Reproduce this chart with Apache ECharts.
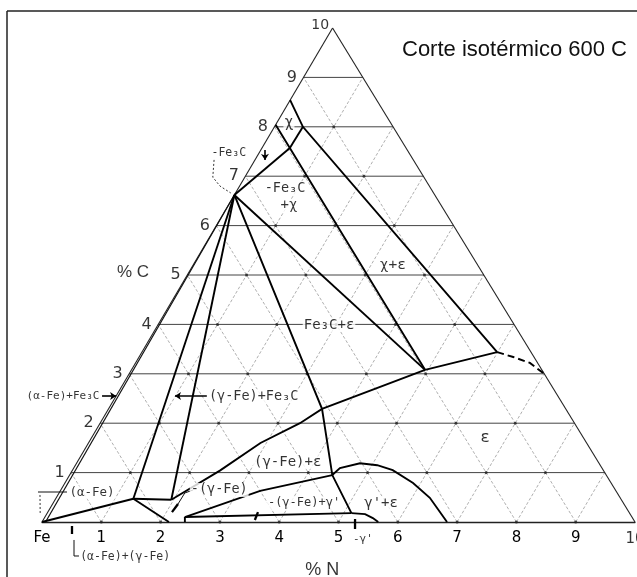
<!DOCTYPE html>
<html><head><meta charset="utf-8">
<script src="https://cdn.jsdelivr.net/npm/echarts@6/dist/echarts.min.js"></script>
<style>html,body{margin:0;padding:0;background:#fff}#c{width:637px;height:577px}</style>
</head><body><div id="c"></div>
<script>
// ---- data: ternary points as [N %, C %] ----
const bottomTicks = ['Fe','1','2','3','4','5','6','7','8','9','10'];
const leftTicks = [1,2,3,4,5,6,7,8,9,10];
const gridLevels = [1,2,3,4,5,6,7,8,9];

const feAlpha      = [[0,0],[1.31,0.47]];
const alphaFe3C    = [[1.31,0.47],[0,6.62]];
const alphaGamma   = [[1.31,0.47],[1.96,0.45]];
const alphaBottom  = [[1.31,0.47],[2.14,0]];
const gammaFe3C    = [[1.96,0.45],[0,6.62]];
const gammaEps     = [[1.96,0.45],[2.49,1.04],[2.9,1.6],[3.37,2.0],[3.60,2.29],[4.95,3.08]];
const fe3cEps      = [[0,6.62],[4.95,3.08]];
const fe3cDown     = [[0,6.62],[3.60,2.29],[4.43,0.95],[5.13,0.18]];
const fe3cChi      = [[0,6.62],[0.47,7.57]];
const chiLowEps    = [[0,8.04],[0.47,7.57],[4.95,3.08]];
const chiHighEps   = [[0,8.54],[0.48,8.0],[5.99,3.44]];
const chiRight     = [[0.48,8.0],[0.47,7.57]];
const epsSolid     = [[4.95,3.08],[5.99,3.44]];
const epsDashed    = [[5.99,3.44],[6.31,3.34],[6.65,3.22],[7.0,3.0]];
const gammaLower   = [[2.36,0.1],[3.37,0.63],[4.43,0.95]];
const gammaStub    = [[2.36,0.1],[2.41,0]];
const gPrimeTop    = [[2.36,0.1],[5.13,0.18]];
const gPrimeArc    = [[5.13,0.18],[5.37,0.16],[5.54,0.08],[5.67,0]];
const epsDome      = [[4.43,0.95],[4.49,1.09],[4.78,1.19],[5.09,1.15],[5.40,1.05],[5.87,0.79],[6.30,0.49],[6.83,0]];
const fe3cDouble   = [[0.06,0],[0,6.62]];

// annotation leaders (ternary coords)
const leaderAlpha    = [[-0.365,0.607],[0.124,0.607]];
const leaderAlphaDot = [[-0.302,0.547],[-0.10,0.142]];
const leaderAG       = [[0.718,-0.364],[0.877,-0.688],[0.961,-0.688]];
const leaderGamma    = [[2.23,0.648],[2.12,0.587],[2.115,0.364]];
const leaderFe3C     = [[-0.69,7.33],[-0.54,6.98],[-0.33,6.80],[-0.08,6.66]];
const tickF          = [[3.57,0.04],[3.544,0.2]];
const arrowGammaP    = [[5.347,-0.14],[5.25,0.06]];
const arrowAG        = [[0.625,-0.243],[0.545,-0.08]];
const arrowGammaReg  = [[2.115,0.364],[2.094,0.2]];
const arrowChi       = [[0.07,7.53],[0.17,7.33]];
const arrowAlphaFe3C = [[-0.237,2.55],[0,2.55]];
const arrowGammaFe3C = [[1.53,2.55],[0.993,2.55]];

const labelTexts = {
  chi:'χ', fe3cTop:'-Fe₃C', fe3cChi1:'-Fe₃C', fe3cChi2:'+χ', chiEps:'χ+ε', fe3cEpsL:'Fe₃C+ε',
  eps:'ε', gFe3C:'(γ-Fe)+Fe₃C', aFe3C:'(α-Fe)+Fe₃C', gEps:'(γ-Fe)+ε', gamma:'-(γ-Fe)',
  alpha:'(α-Fe)', gGp:'-(γ-Fe)+γ\'', gpEps:'γ\'+ε', gp:'-γ\'', aG:'(α-Fe)+(γ-Fe)',
  pctC:'% C', pctN:'% N'
};

// ---- layout ----
const K = 0.49; // horizontal shift of the apex (fraction of base)
const toXY = p => [p[0] + K * p[1], p[1]];
const MONO = 'DejaVu Sans Mono';

const labelAnchors = [
  ['chi',[0.205,8.08],15],['fe3cTop',[-0.51,7.47],11.5],['fe3cChi1',[0.785,6.76],13.5],['fe3cChi2',[1.03,6.40],14],
  ['chiEps',[3.37,5.20],14.5],['fe3cEpsL',[2.885,3.99],14],['eps',[6.64,1.70],16],['gFe3C',[2.32,2.55],13.5],
  ['aFe3C',[-0.895,2.55],11],['gEps',[3.55,1.21],14],['gamma',[2.67,0.65],13.5],['alpha',[0.555,0.59],12.5],
  ['gGp',[4.23,0.385],12],['gpEps',[5.53,0.385],14],['gp',[5.58,-0.344],11],['aG',[1.75,-0.71],11.5],
  ['pctC',[-0.945,5.06],17,'Liberation Sans'],['pctN',[5.2,-0.97],18,'Liberation Sans']
];

const grid1 = [], grid2 = [], grid3 = [], dots = [];
gridLevels.forEach(v => {
  grid1.push({coords: [toXY([0, v]), toXY([10 - v, v])]});
  grid2.push({coords: [toXY([v, 0]), toXY([v, 10 - v])]});
  grid3.push({coords: [toXY([v, 0]), toXY([0, v])]});
});
for (let i = 1; i < 10; i++) for (let j = 1; i + j < 10; j++) dots.push(toXY([i, j]));
for (let i = 1; i < 10; i++) { dots.push(toXY([i, 0])); }

const phase = [feAlpha, alphaFe3C, alphaGamma, alphaBottom, gammaFe3C, gammaEps, fe3cEps, fe3cDown,
  fe3cChi, chiLowEps, chiHighEps, chiRight, epsSolid, gammaLower, gammaStub, gPrimeTop, gPrimeArc, epsDome]
  .map(a => ({coords: a.map(toXY)}));

const edges = [[[0,0],[0,10]], [[10,0],[0,10]]].map(a => ({coords: a.map(toXY)}));
const thinLeaders = [leaderAlpha, leaderAG, leaderGamma].map(a => ({coords: a.map(toXY)}));
const dotLeaders = [leaderFe3C, leaderAlphaDot].map(a => ({coords: a.map(toXY)}));
const thickTicks = [tickF, arrowGammaP, arrowAG, arrowGammaReg].map(a => ({coords: a.map(toXY)}));
const arrows = [arrowChi, arrowAlphaFe3C, arrowGammaFe3C].map(a => ({coords: a.map(toXY)}));

const labelData = labelAnchors.map(([key, p, fs, ff]) => ({
  value: toXY(p),
  label: {show: true, position: 'inside', formatter: labelTexts[key], fontSize: fs,
    fontFamily: ff || MONO, color: '#000',
    backgroundColor: key === 'pctC' || key === 'pctN' ? 'transparent' : '#fff', padding: [0, 1]}
}));

const leftLabelData = leftTicks.map(c => ({
  value: toXY([0, c]),
  label: {show: true, position: 'left', distance: c === 10 ? 3 : 6, offset: c === 10 ? [0, -3] : [0, 0],
    formatter: String(c), fontSize: c === 10 ? 14 : 16, fontFamily: 'DejaVu Sans', color: '#000'}
}));
// last bottom tick drawn as a label at the right vertex so it can run off the page like the original
const rightTickData = [{value: toXY([10, 0]),
  label: {show: true, position: 'bottom', distance: 9, formatter: bottomTicks[10], fontSize: 15,
    fontFamily: 'DejaVu Sans', color: '#000'}}];

const L = (extra) => Object.assign({type: 'lines', coordinateSystem: 'cartesian2d', polyline: true,
  clip: false, silent: true}, extra);

const chart = echarts.init(document.getElementById('c'));
chart.setOption({
  animation: false,
  backgroundColor: '#fff',
  title: {text: 'Corte isotérmico 600 C', left: 397, top: 34,
    textStyle: {fontSize: 22, fontWeight: 'normal', fontFamily: 'Liberation Sans', color: '#111'}},
  grid: {left: 42, right: 2, top: 28, bottom: 55},
  xAxis: {type: 'value', min: 0, max: 10, interval: 1,
    axisLine: {show: true, lineStyle: {color: '#222', width: 1.3}}, axisTick: {show: false}, splitLine: {show: false},
    axisLabel: {formatter: v => bottomTicks[v], fontSize: 15, margin: 9, color: '#000', fontFamily: 'DejaVu Sans',
      showMaxLabel: false, hideOverlap: false}},
  yAxis: {type: 'value', min: 0, max: 10, show: false},
  graphic: [
    {type: 'line', shape: {x1: 7, y1: 11, x2: 637, y2: 11}, style: {stroke: '#222', lineWidth: 1.5}},
    {type: 'line', shape: {x1: 7, y1: 11, x2: 7, y2: 577}, style: {stroke: '#222', lineWidth: 1.5}}
  ],
  series: [
    L({z: 1, lineStyle: {color: '#9a9a9a', width: 0.8, type: [3, 2], opacity: 1}, data: grid2.concat(grid3)}),
    L({z: 2, lineStyle: {color: '#444', width: 1, opacity: 1}, data: grid1}),
    L({z: 2, lineStyle: {color: '#222', width: 1.1, opacity: 1}, data: edges}),
    {type: 'scatter', symbolSize: 3, itemStyle: {color: '#222'}, silent: true, z: 3, clip: false, data: dots},
    L({z: 4, lineStyle: {color: '#111', width: 1.2, opacity: 1}, data: [{coords: fe3cDouble.map(toXY)}]}),
    L({z: 5, lineStyle: {color: '#000', width: 1.9, opacity: 1}, data: phase}),
    L({z: 5, lineStyle: {color: '#000', width: 1.9, type: [7, 4], opacity: 1}, data: [{coords: epsDashed.map(toXY)}]}),
    L({z: 6, lineStyle: {color: '#111', width: 1, opacity: 1}, data: thinLeaders}),
    L({z: 6, lineStyle: {color: '#333', width: 1, type: [2, 2], opacity: 1}, data: dotLeaders}),
    L({z: 6, lineStyle: {color: '#000', width: 2.3, opacity: 1}, data: thickTicks}),
    {type: 'lines', coordinateSystem: 'cartesian2d', clip: false, silent: true, z: 6,
     symbol: ['none', 'arrow'], symbolSize: 6,
     lineStyle: {color: '#000', width: 1.6, opacity: 1}, data: arrows},
    {type: 'scatter', symbolSize: 1, itemStyle: {color: 'rgba(0,0,0,0)'}, silent: true, z: 10, clip: false, data: labelData},
    {type: 'scatter', symbolSize: 1, itemStyle: {color: 'rgba(0,0,0,0)'}, silent: true, z: 10, clip: false, data: leftLabelData},
    {type: 'scatter', symbolSize: 1, itemStyle: {color: 'rgba(0,0,0,0)'}, silent: true, z: 10, clip: false, data: rightTickData}
  ]
});
</script></body></html>
